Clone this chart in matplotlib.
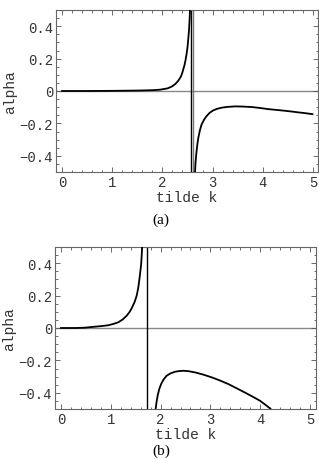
import matplotlib.pyplot as plt
from matplotlib.ticker import MultipleLocator

# panel (a) values
xa_izq = [0.0, 0.5, 1.0, 1.3, 1.55, 1.8, 1.95, 2.1, 2.185, 2.26, 2.32, 2.37, 2.40,
          2.44, 2.46, 2.48, 2.50, 2.515, 2.53, 2.54, 2.55, 2.565]
ya_izq = [0.0, 0.0, 0.001, 0.002, 0.003, 0.005, 0.008, 0.016, 0.027, 0.044, 0.065,
          0.09, 0.116, 0.16, 0.189, 0.225, 0.27, 0.32, 0.375, 0.43, 0.50, 0.65]
xa_der = [2.64, 2.65, 2.66, 2.68, 2.70, 2.715, 2.745, 2.78, 2.83, 2.88, 2.94, 3.01,
          3.09, 3.18, 3.30, 3.45, 3.60, 3.78, 3.95, 4.11, 4.28, 4.44, 4.58, 4.71, 4.85, 4.99]
ya_der = [-0.65, -0.50, -0.44, -0.373, -0.32, -0.29, -0.245, -0.207, -0.177, -0.155,
          -0.135, -0.12, -0.11, -0.103, -0.098, -0.095, -0.096, -0.099, -0.105, -0.112,
          -0.117, -0.122, -0.127, -0.132, -0.137, -0.143]
asintota_a = 2.585

# panel (b)
xb_izq = [0.0, 0.3, 0.48, 0.68, 0.82, 0.95, 1.05, 1.15, 1.24, 1.32, 1.38, 1.43, 1.48,
          1.52, 1.55, 1.57, 1.59, 1.61, 1.62, 1.63, 1.645]
yb_izq = [0.0, 0.0, 0.002, 0.008, 0.012, 0.017, 0.025, 0.035, 0.053, 0.076, 0.1,
          0.128, 0.162, 0.2, 0.245, 0.29, 0.34, 0.395, 0.445, 0.50, 0.62]
xb_der = [1.88, 1.90, 1.92, 1.94, 1.97, 2.01, 2.06, 2.12, 2.20, 2.29, 2.37, 2.46, 2.57,
          2.69, 2.85, 3.03, 3.20, 3.36, 3.52, 3.69, 3.85, 4.0, 4.10, 4.2, 4.24]
yb_der = [-0.56, -0.50, -0.455, -0.419, -0.38, -0.346, -0.318, -0.295, -0.28, -0.27,
          -0.266, -0.264, -0.267, -0.274, -0.287, -0.305, -0.325, -0.346, -0.371,
          -0.398, -0.424, -0.45, -0.473, -0.497, -0.51]
asintota_b = 1.73

mono = ["Liberation Mono", "DejaVu Sans Mono"]
serif = ["Liberation Serif", "DejaVu Serif"]

fig = plt.figure(figsize=(3.19, 4.60), dpi=100)


def panel(rect, xi, yi, xd, yd, asint, dobles, letra, y_letra, xlim):
    ax = fig.add_axes(rect)
    ax.axhline(0, color="#888888", lw=1.0, zorder=1)
    for dx, col in dobles:
        ax.axvline(asint + dx, color=col, lw=1.0, zorder=2)
    ax.plot(xi, yi, color="black", lw=1.3, zorder=3, solid_joinstyle="round")
    ax.plot(xd, yd, color="black", lw=1.3, zorder=3, solid_joinstyle="round")
    ax.set_xlim(*xlim)
    ax.set_ylim(-0.5, 0.5)
    ax.xaxis.set_major_locator(MultipleLocator(1))
    ax.xaxis.set_minor_locator(MultipleLocator(0.2))
    ax.yaxis.set_major_locator(MultipleLocator(0.2))
    ax.yaxis.set_minor_locator(MultipleLocator(0.05))
    ax.tick_params(which="both", direction="in", top=True, right=True,
                   width=0.6, colors="#555555", labelcolor="#333333")
    ax.tick_params(which="major", length=3.5, labelsize=10, pad=2)
    ax.tick_params(which="minor", length=1.8)
    ax.set_xticks([0, 1, 2, 3, 4, 5])
    ax.set_xticklabels(["0", "1", "2", "3", "4", "5"], family=mono)
    ax.set_yticks([-0.4, -0.2, 0, 0.2, 0.4])
    ax.set_yticklabels(["\u22120.4", "\u22120.2", "0", "0.2", "0.4"], family=mono)
    for s in ax.spines.values():
        s.set_color("#666666")
        s.set_linewidth(0.8)
    ax.set_xlabel("tilde k", family=mono, fontsize=10.5, color="#333333", labelpad=1)
    ax.set_ylabel("alpha", family=mono, fontsize=10.5, color="#333333", labelpad=2)
    fig.text(0.505, 1 - y_letra / 460, letra, ha="center", va="center",
             family=serif, fontsize=11)
    return ax


panel([56 / 319, 1 - 173 / 460, 262 / 319, 162 / 460],
      xa_izq, ya_izq, xa_der, ya_der, asintota_a,
      [(-0.01, "black"), (0.025, "#777777")], "(a)", 220, (-0.12, 5.10))
panel([55 / 319, 1 - 410 / 460, 261 / 319, 162 / 460],
      xb_izq, yb_izq, xb_der, yb_der, asintota_b,
      [(0.0, "black")], "(b)", 451, (-0.12, 5.12))

fig.savefig("out.png", dpi=100)
